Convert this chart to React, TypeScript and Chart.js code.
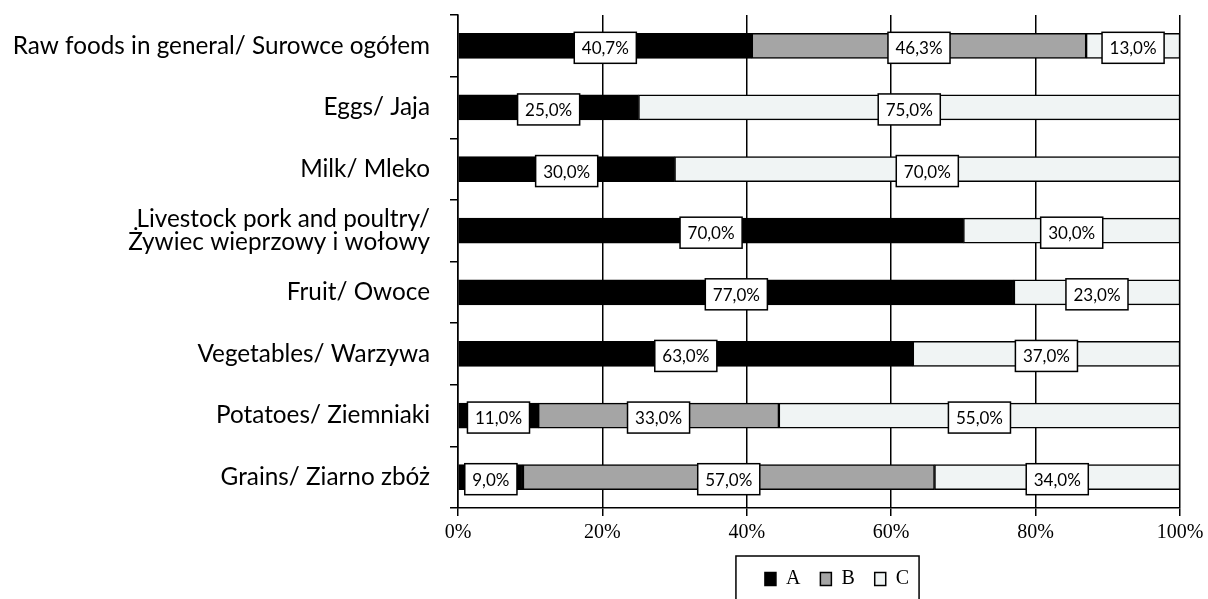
import React, { useEffect, useRef } from 'react';
import { Chart, registerables } from 'chart.js';

Chart.register(...registerables);

const categories: (string | string[])[] = [
  'Raw foods in general/ Surowce ogółem',
  'Eggs/ Jaja',
  'Milk/ Mleko',
  ['Livestock pork and poultry/', 'Żywiec wieprzowy i wołowy'],
  'Fruit/ Owoce',
  'Vegetables/ Warzywa',
  'Potatoes/ Ziemniaki',
  'Grains/ Ziarno zbóż',
];

const seriesA: (number | null)[] = [40.7, 25, 30, 70, 77, 63, 11, 9];
const seriesB: (number | null)[] = [46.3, null, null, null, null, null, 33, 57];
const seriesC: (number | null)[] = [13, 75, 70, 30, 23, 37, 55, 34];

const seriesNames = ['A', 'B', 'C'];
const xTickStep = 20;

const rowTotals = categories.map((_, i) =>
  [seriesA, seriesB, seriesC].reduce((s, arr) => s + (arr[i] ?? 0), 0)
);
const toPct = (arr: (number | null)[]) =>
  arr.map((v, i) => (v == null ? null : (v / rowTotals[i]) * 100));

const fmt = (v: number) => v.toFixed(1).replace('.', ',') + '%';

const labelPlugin = {
  id: 'boxLabels',
  afterDatasetsDraw(chart: any) {
    const ctx = chart.ctx;
    ctx.save();
    ctx.font = '17px Lato';
    ctx.textAlign = 'center';
    ctx.textBaseline = 'middle';
    chart.data.datasets.forEach((ds: any, di: number) => {
      const meta = chart.getDatasetMeta(di);
      meta.data.forEach((el: any, i: number) => {
        const raw = ds.rawValues[i];
        if (raw == null) return;
        const cx = (el.x + el.base) / 2;
        const cy = el.y + 2;
        const text = fmt(raw);
        const w = ctx.measureText(text).width + 15;
        const h = 31;
        ctx.fillStyle = '#ffffff';
        ctx.fillRect(cx - w / 2, cy - h / 2, w, h);
        ctx.lineWidth = 1.5;
        ctx.strokeStyle = '#000000';
        ctx.strokeRect(cx - w / 2, cy - h / 2, w, h);
        ctx.fillStyle = '#000000';
        ctx.fillText(text, cx, cy + 1);
      });
    });
    ctx.restore();
  },
};

const LEGEND_SHIFT = 18;
const legendFramePlugin = {
  id: 'legendFrame',
  afterLayout(chart: any) {
    const l = chart.legend;
    if (!l) return;
    l.left += LEGEND_SHIFT;
    l.right += LEGEND_SHIFT;
  },
  afterDraw(chart: any) {
    const l = chart.legend;
    if (!l) return;
    const pad = l.options.labels.padding;
    const lw = l.lineWidths[0];
    const start = (l.left + pad + l.right - lw) / 2;
    const end = start + lw - pad;
    const ctx = chart.ctx;
    ctx.save();
    ctx.strokeStyle = '#000000';
    ctx.lineWidth = 1.5;
    ctx.strokeRect(start - 29, l.top + 7, end - start + 39, 80);
    ctx.restore();
  },
};

export default function App() {
  const ref = useRef<HTMLCanvasElement | null>(null);
  useEffect(() => {
    if (!ref.current) return;
    const mk = (label: string, raw: (number | null)[], bg: string) => ({
      label,
      data: toPct(raw),
      rawValues: raw,
      backgroundColor: bg,
      borderColor: '#000000',
      borderWidth: 1.5,
      borderSkipped: false,
      barThickness: 25,
    });
    const chart = new Chart(ref.current, {
      type: 'bar',
      data: {
        labels: categories as any,
        datasets: [
          mk(seriesNames[0], seriesA, '#000000'),
          mk(seriesNames[1], seriesB, '#a5a5a5'),
          mk(seriesNames[2], seriesC, '#f0f4f4'),
        ] as any,
      },
      options: {
        indexAxis: 'y',
        animation: false,
        responsive: true,
        maintainAspectRatio: false,
        layout: { padding: { top: 7, right: 28, bottom: 9, left: 0 } },
        scales: {
          x: {
            stacked: true,
            min: 0,
            max: 100,
            ticks: {
              stepSize: xTickStep,
              callback: (v: any) => v + '%',
              font: { family: 'Liberation Serif', size: 20 },
              color: '#000000',
              padding: 5,
            },
            grid: { color: '#000000', lineWidth: 1.5, drawTicks: true, tickLength: 8 },
            border: { display: true, color: '#000000', width: 1.5 },
            afterFit: (s: any) => {
              s.height = 41;
              s.paddingLeft = 0;
              s.paddingRight = 0;
            },
          },
          y: {
            stacked: true,
            ticks: {
              font: { family: 'Lato', size: 24.3, lineHeight: 0.91 },
              color: '#000000',
              padding: 20,
            },
            grid: {
              color: '#000000',
              lineWidth: 1.5,
              drawOnChartArea: false,
              drawTicks: true,
              tickLength: 8,
              offset: true,
            },
            border: { display: true, color: '#000000', width: 1.5 },
            afterFit: (s: any) => {
              s.width = 450;
              s.paddingTop = 0;
              s.paddingBottom = 0;
            },
          },
        },
        plugins: {
          legend: {
            position: 'bottom',
            fullSize: false,
            labels: {
              font: { family: 'Liberation Serif', size: 20 },
              color: '#000000',
              boxWidth: 11,
              boxHeight: 13,
              padding: 20,
            },
          },
          tooltip: { enabled: false },
        },
      } as any,
      plugins: [labelPlugin, legendFramePlugin],
    });
    return () => chart.destroy();
  }, []);
  return (
    <div style={{ position: 'fixed', left: 8, top: 8, width: 1200, height: 600 }}>
      <canvas ref={ref} />
    </div>
  );
}
